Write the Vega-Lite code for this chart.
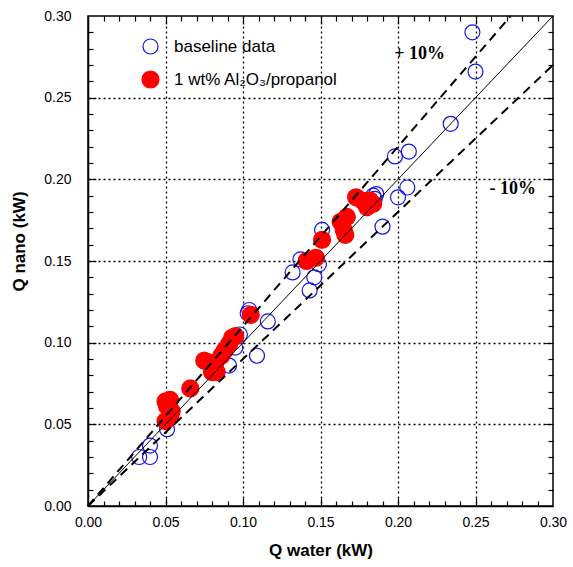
{
  "$schema": "https://vega.github.io/schema/vega-lite/v6.json",
  "width": 465,
  "height": 490,
  "autosize": {"type": "none"},
  "padding": {"left": 88, "top": 16, "right": 20, "bottom": 61},
  "background": "white",
  "config": {
    "view": {"stroke": "black", "strokeWidth": 1.5},
    "font": "Liberation Sans"
  },
  "datasets": {
    "points": [
      {"qwater": 0.033, "qnano": 0.030, "series": "baseline data"},
      {"qwater": 0.040, "qnano": 0.030, "series": "baseline data"},
      {"qwater": 0.040, "qnano": 0.037, "series": "baseline data"},
      {"qwater": 0.051, "qnano": 0.047, "series": "baseline data"},
      {"qwater": 0.091, "qnano": 0.086, "series": "baseline data"},
      {"qwater": 0.095, "qnano": 0.097, "series": "baseline data"},
      {"qwater": 0.098, "qnano": 0.105, "series": "baseline data"},
      {"qwater": 0.103, "qnano": 0.118, "series": "baseline data"},
      {"qwater": 0.104, "qnano": 0.120, "series": "baseline data"},
      {"qwater": 0.109, "qnano": 0.092, "series": "baseline data"},
      {"qwater": 0.116, "qnano": 0.113, "series": "baseline data"},
      {"qwater": 0.132, "qnano": 0.143, "series": "baseline data"},
      {"qwater": 0.137, "qnano": 0.151, "series": "baseline data"},
      {"qwater": 0.143, "qnano": 0.132, "series": "baseline data"},
      {"qwater": 0.146, "qnano": 0.140, "series": "baseline data"},
      {"qwater": 0.149, "qnano": 0.148, "series": "baseline data"},
      {"qwater": 0.151, "qnano": 0.169, "series": "baseline data"},
      {"qwater": 0.184, "qnano": 0.190, "series": "baseline data"},
      {"qwater": 0.186, "qnano": 0.191, "series": "baseline data"},
      {"qwater": 0.185, "qnano": 0.188, "series": "baseline data"},
      {"qwater": 0.190, "qnano": 0.171, "series": "baseline data"},
      {"qwater": 0.198, "qnano": 0.214, "series": "baseline data"},
      {"qwater": 0.200, "qnano": 0.189, "series": "baseline data"},
      {"qwater": 0.206, "qnano": 0.195, "series": "baseline data"},
      {"qwater": 0.207, "qnano": 0.217, "series": "baseline data"},
      {"qwater": 0.234, "qnano": 0.234, "series": "baseline data"},
      {"qwater": 0.248, "qnano": 0.290, "series": "baseline data"},
      {"qwater": 0.250, "qnano": 0.266, "series": "baseline data"},
      {"qwater": 0.050, "qnano": 0.052, "series": "1 wt% Al₂O₃/propanol"},
      {"qwater": 0.053, "qnano": 0.055, "series": "1 wt% Al₂O₃/propanol"},
      {"qwater": 0.054, "qnano": 0.058, "series": "1 wt% Al₂O₃/propanol"},
      {"qwater": 0.051, "qnano": 0.061, "series": "1 wt% Al₂O₃/propanol"},
      {"qwater": 0.050, "qnano": 0.064, "series": "1 wt% Al₂O₃/propanol"},
      {"qwater": 0.053, "qnano": 0.065, "series": "1 wt% Al₂O₃/propanol"},
      {"qwater": 0.066, "qnano": 0.072, "series": "1 wt% Al₂O₃/propanol"},
      {"qwater": 0.075, "qnano": 0.089, "series": "1 wt% Al₂O₃/propanol"},
      {"qwater": 0.078, "qnano": 0.088, "series": "1 wt% Al₂O₃/propanol"},
      {"qwater": 0.080, "qnano": 0.082, "series": "1 wt% Al₂O₃/propanol"},
      {"qwater": 0.083, "qnano": 0.082, "series": "1 wt% Al₂O₃/propanol"},
      {"qwater": 0.082, "qnano": 0.087, "series": "1 wt% Al₂O₃/propanol"},
      {"qwater": 0.086, "qnano": 0.092, "series": "1 wt% Al₂O₃/propanol"},
      {"qwater": 0.088, "qnano": 0.095, "series": "1 wt% Al₂O₃/propanol"},
      {"qwater": 0.091, "qnano": 0.099, "series": "1 wt% Al₂O₃/propanol"},
      {"qwater": 0.093, "qnano": 0.103, "series": "1 wt% Al₂O₃/propanol"},
      {"qwater": 0.095, "qnano": 0.104, "series": "1 wt% Al₂O₃/propanol"},
      {"qwater": 0.105, "qnano": 0.117, "series": "1 wt% Al₂O₃/propanol"},
      {"qwater": 0.141, "qnano": 0.150, "series": "1 wt% Al₂O₃/propanol"},
      {"qwater": 0.147, "qnano": 0.152, "series": "1 wt% Al₂O₃/propanol"},
      {"qwater": 0.151, "qnano": 0.163, "series": "1 wt% Al₂O₃/propanol"},
      {"qwater": 0.163, "qnano": 0.174, "series": "1 wt% Al₂O₃/propanol"},
      {"qwater": 0.165, "qnano": 0.169, "series": "1 wt% Al₂O₃/propanol"},
      {"qwater": 0.166, "qnano": 0.166, "series": "1 wt% Al₂O₃/propanol"},
      {"qwater": 0.167, "qnano": 0.177, "series": "1 wt% Al₂O₃/propanol"},
      {"qwater": 0.173, "qnano": 0.189, "series": "1 wt% Al₂O₃/propanol"},
      {"qwater": 0.177, "qnano": 0.187, "series": "1 wt% Al₂O₃/propanol"},
      {"qwater": 0.180, "qnano": 0.183, "series": "1 wt% Al₂O₃/propanol"},
      {"qwater": 0.182, "qnano": 0.187, "series": "1 wt% Al₂O₃/propanol"},
      {"qwater": 0.184, "qnano": 0.185, "series": "1 wt% Al₂O₃/propanol"}
    ],
    "solid": [
      {"qwater": 0, "qnano": 0, "line": "1:1"},
      {"qwater": 0.3, "qnano": 0.3, "line": "1:1"}
    ],
    "dashed": [
      {"qwater": 0, "qnano": 0, "line": "+10%"},
      {"qwater": 0.2727, "qnano": 0.3, "line": "+10%"},
      {"qwater": 0, "qnano": 0, "line": "-10%"},
      {"qwater": 0.3, "qnano": 0.27, "line": "-10%"}
    ],
    "notes": [
      {"qwater": 0.214, "qnano": 0.2765, "label": "+ 10%"},
      {"qwater": 0.274, "qnano": 0.194, "label": "- 10%"}
    ]
  },
  "layer": [
    {
      "data": {"name": "points"},
      "mark": {"type": "point", "shape": "circle", "opacity": 1, "strokeWidth": 1.2},
      "encoding": {
        "x": {
          "field": "qwater", "type": "quantitative",
          "scale": {"domain": [0, 0.3], "nice": false, "zero": true},
          "axis": {
            "orient": "bottom",
            "values": [0, 0.05, 0.1, 0.15, 0.2, 0.25, 0.3],
            "format": ".2f",
            "labelOverlap": false, "labelFlush": false,
            "labelFont": "Liberation Sans", "labelFontSize": 14, "labelColor": "black", "labelPadding": 9,
            "ticks": false,
            "grid": true, "gridColor": "black", "gridDash": [2, 3], "gridWidth": 1.3,
            "gridOpacity": {"condition": {"test": "datum.value > 0.001 && datum.value < 0.299", "value": 1}, "value": 0},
            "domainColor": "black", "domainWidth": 1.5,
            "title": "Q water (kW)", "titleFont": "Liberation Sans", "titleFontSize": 17, "titleFontWeight": "bold", "titleColor": "black",
            "titleX": 232.5, "titleY": 44, "titleAlign": "center", "titleBaseline": "middle"
          }
        },
        "y": {
          "field": "qnano", "type": "quantitative",
          "scale": {"domain": [0, 0.3], "nice": false, "zero": true},
          "axis": {
            "orient": "left",
            "values": [0, 0.05, 0.1, 0.15, 0.2, 0.25, 0.3],
            "format": ".2f",
            "labelOverlap": false, "labelFlush": false,
            "labelFont": "Liberation Sans", "labelFontSize": 14, "labelColor": "black", "labelPadding": 17,
            "ticks": false,
            "grid": true, "gridColor": "black", "gridDash": [2, 3], "gridWidth": 1.3,
            "gridOpacity": {"condition": {"test": "datum.value > 0.001 && datum.value < 0.299", "value": 1}, "value": 0},
            "domainColor": "black", "domainWidth": 1.5,
            "title": "Q nano (kW)", "titleFont": "Liberation Sans", "titleFontSize": 17, "titleFontWeight": "bold", "titleColor": "black",
            "titleAngle": -90, "titleX": -69, "titleY": 225, "titleAlign": "center", "titleBaseline": "middle"
          }
        },
        "fill": {
          "field": "series", "type": "nominal",
          "scale": {"domain": ["baseline data", "1 wt% Al₂O₃/propanol"], "range": ["transparent", "#ff0000"]},
          "legend": {
            "title": null, "orient": "none", "legendX": 53, "legendY": 22,
            "symbolType": "circle", "symbolStrokeWidth": 1.2,
            "labelFont": "Liberation Sans", "labelFontSize": 17, "labelOffset": 14,
            "rowPadding": 11, "padding": 0, "labelLimit": 400,
            "encode": {"labels": {"update": {"fill": {"signal": "datum.label === 'baseline data' ? '#1414e6' : '#ff0000'"}}}}
          }
        },
        "stroke": {
          "field": "series", "type": "nominal",
          "scale": {"domain": ["baseline data", "1 wt% Al₂O₃/propanol"], "range": ["#1414e6", "#ff0000"]},
          "legend": {
            "title": null, "orient": "none", "legendX": 53, "legendY": 22,
            "symbolType": "circle", "symbolStrokeWidth": 1.2,
            "labelFont": "Liberation Sans", "labelFontSize": 17, "labelOffset": 14,
            "rowPadding": 11, "padding": 0, "labelLimit": 400,
            "encode": {"labels": {"update": {"fill": {"signal": "datum.label === 'baseline data' ? '#1414e6' : '#ff0000'"}}}}
          }
        },
        "size": {
          "field": "series", "type": "nominal",
          "scale": {"domain": ["baseline data", "1 wt% Al₂O₃/propanol"], "range": [225, 289]},
          "legend": {
            "title": null, "orient": "none", "legendX": 53, "legendY": 22,
            "symbolType": "circle", "symbolStrokeWidth": 1.2,
            "labelFont": "Liberation Sans", "labelFontSize": 17, "labelOffset": 14,
            "rowPadding": 11, "padding": 0, "labelLimit": 400,
            "encode": {"labels": {"update": {"fill": {"signal": "datum.label === 'baseline data' ? '#1414e6' : '#ff0000'"}}}}
          }
        }
      }
    },
    {
      "data": {"name": "solid"},
      "mark": {"type": "line", "color": "black", "strokeWidth": 1},
      "encoding": {
        "x": {
          "field": "qwater", "type": "quantitative",
          "scale": {"domain": [0, 0.3], "nice": false, "zero": true},
          "axis": {
            "orient": "top", "labels": false, "title": null, "grid": false, "domain": false,
            "values": [0.05, 0.1, 0.15, 0.2, 0.25],
            "offset": -8, "ticks": true, "tickSize": 8, "tickColor": "black", "tickWidth": 1.2
          }
        },
        "y": {
          "field": "qnano", "type": "quantitative",
          "scale": {"domain": [0, 0.3], "nice": false, "zero": true},
          "axis": {
            "orient": "right", "labels": false, "title": null, "grid": false, "domain": false,
            "values": [0.05, 0.1, 0.15, 0.2, 0.25],
            "offset": -8, "ticks": true, "tickSize": 8, "tickColor": "black", "tickWidth": 1.2
          }
        },
        "detail": {"field": "line", "type": "nominal"}
      }
    },
    {
      "data": {"name": "dashed"},
      "mark": {"type": "line", "color": "black", "strokeWidth": 2, "strokeDash": [9, 6]},
      "encoding": {
        "x": {
          "field": "qwater", "type": "quantitative",
          "scale": {"domain": [0, 0.3], "nice": false, "zero": true},
          "axis": {
            "orient": "bottom", "labels": false, "title": null, "grid": false, "domain": false,
            "values": [0.05, 0.1, 0.15, 0.2, 0.25],
            "offset": -8, "ticks": true, "tickSize": 8, "tickColor": "black", "tickWidth": 1.2
          }
        },
        "y": {
          "field": "qnano", "type": "quantitative",
          "scale": {"domain": [0, 0.3], "nice": false, "zero": true},
          "axis": {
            "orient": "left", "labels": false, "title": null, "grid": false, "domain": false,
            "values": [0.05, 0.1, 0.15, 0.2, 0.25],
            "offset": -8, "ticks": true, "tickSize": 8, "tickColor": "black", "tickWidth": 1.2
          }
        },
        "detail": {"field": "line", "type": "nominal"}
      }
    },
    {
      "data": {"name": "solid"},
      "mark": {"type": "line", "color": "black", "strokeWidth": 1, "opacity": 0},
      "encoding": {
        "x": {
          "field": "qwater", "type": "quantitative",
          "scale": {"domain": [0, 0.3], "nice": false, "zero": true},
          "axis": {
            "orient": "bottom", "labels": false, "title": null, "grid": false, "domain": false,
            "values": [0.01, 0.02, 0.03, 0.04, 0.06, 0.07, 0.08, 0.09, 0.11, 0.12, 0.13, 0.14, 0.16, 0.17, 0.18, 0.19, 0.21, 0.22, 0.23, 0.24, 0.26, 0.27, 0.28, 0.29],
            "offset": -5, "ticks": true, "tickSize": 5, "tickColor": "black", "tickWidth": 1.2
          }
        },
        "y": {
          "field": "qnano", "type": "quantitative",
          "scale": {"domain": [0, 0.3], "nice": false, "zero": true},
          "axis": {
            "orient": "left", "labels": false, "title": null, "grid": false, "domain": false,
            "values": [0.01, 0.02, 0.03, 0.04, 0.06, 0.07, 0.08, 0.09, 0.11, 0.12, 0.13, 0.14, 0.16, 0.17, 0.18, 0.19, 0.21, 0.22, 0.23, 0.24, 0.26, 0.27, 0.28, 0.29],
            "offset": -5, "ticks": true, "tickSize": 5, "tickColor": "black", "tickWidth": 1.2
          }
        },
        "detail": {"field": "line", "type": "nominal"}
      }
    },
    {
      "data": {"name": "notes"},
      "mark": {"type": "text", "font": "Liberation Serif", "fontWeight": "bold", "fontSize": 18, "align": "center", "baseline": "middle", "color": "black"},
      "encoding": {
        "x": {
          "field": "qwater", "type": "quantitative",
          "scale": {"domain": [0, 0.3], "nice": false, "zero": true},
          "axis": {
            "orient": "top", "labels": false, "title": null, "grid": false, "domain": false,
            "values": [0.01, 0.02, 0.03, 0.04, 0.06, 0.07, 0.08, 0.09, 0.11, 0.12, 0.13, 0.14, 0.16, 0.17, 0.18, 0.19, 0.21, 0.22, 0.23, 0.24, 0.26, 0.27, 0.28, 0.29],
            "offset": -5, "ticks": true, "tickSize": 5, "tickColor": "black", "tickWidth": 1.2
          }
        },
        "y": {
          "field": "qnano", "type": "quantitative",
          "scale": {"domain": [0, 0.3], "nice": false, "zero": true},
          "axis": {
            "orient": "right", "labels": false, "title": null, "grid": false, "domain": false,
            "values": [0.01, 0.02, 0.03, 0.04, 0.06, 0.07, 0.08, 0.09, 0.11, 0.12, 0.13, 0.14, 0.16, 0.17, 0.18, 0.19, 0.21, 0.22, 0.23, 0.24, 0.26, 0.27, 0.28, 0.29],
            "offset": -5, "ticks": true, "tickSize": 5, "tickColor": "black", "tickWidth": 1.2
          }
        },
        "text": {"field": "label", "type": "nominal"}
      }
    }
  ],
  "resolve": {"axis": {"x": "independent", "y": "independent"}}
}
